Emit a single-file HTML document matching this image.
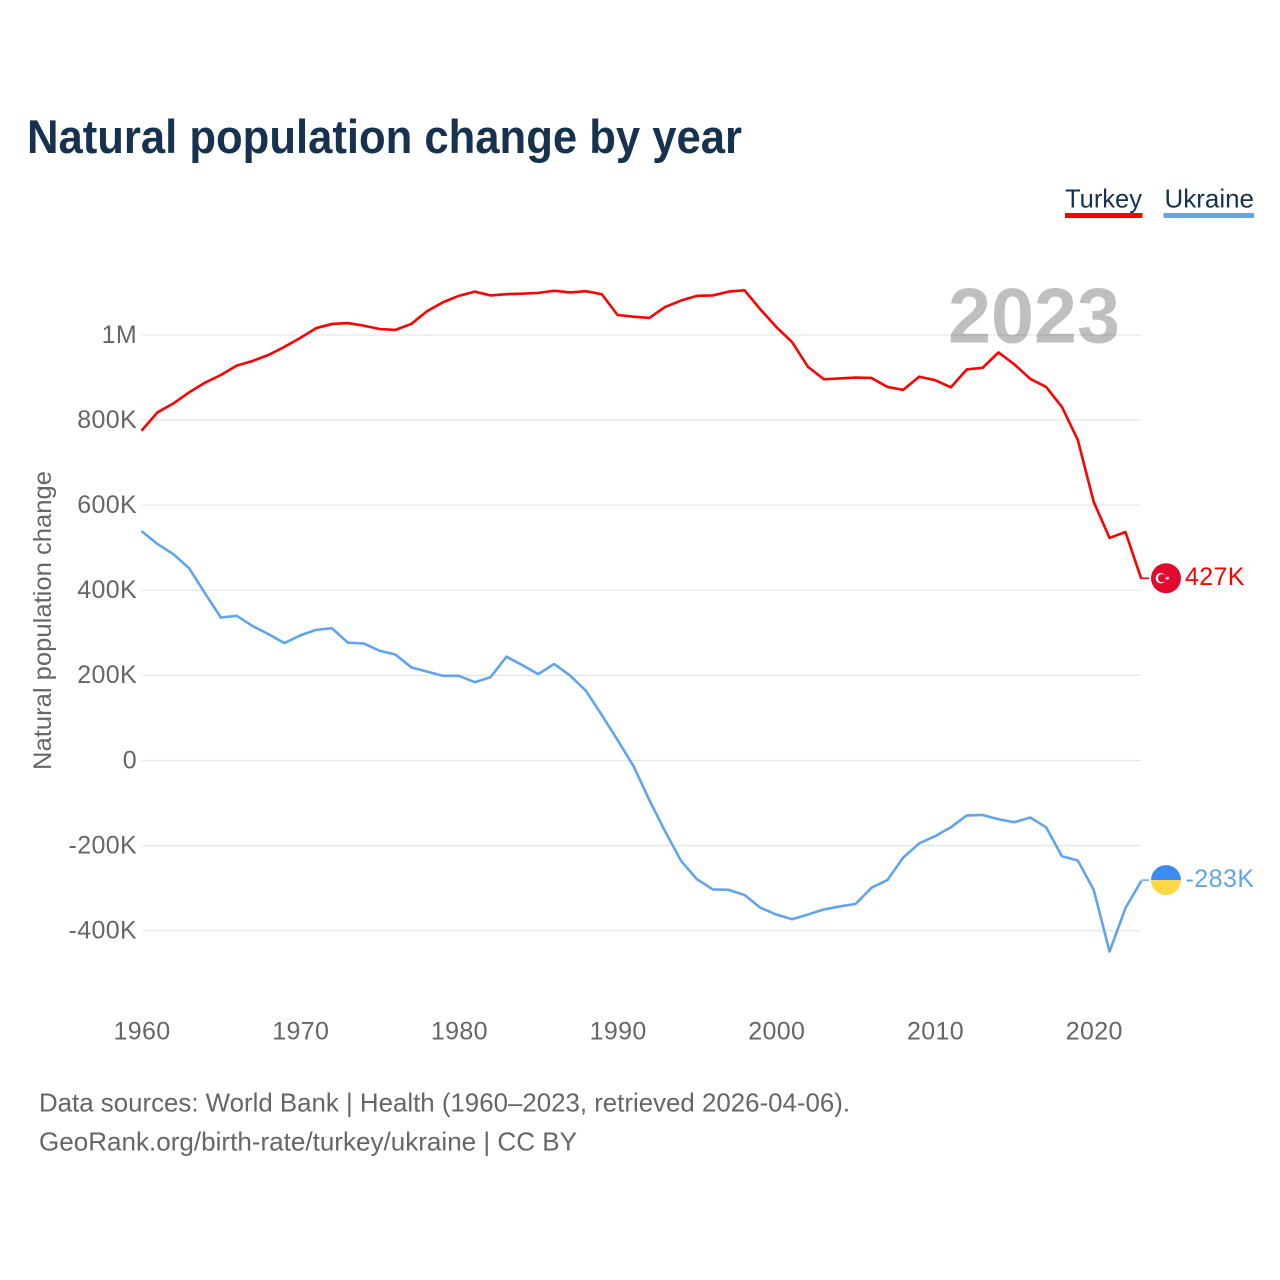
<!DOCTYPE html>
<html lang="en">
<head>
<meta charset="utf-8">
<title>Natural population change by year</title>
<style>
html,body{margin:0;padding:0;background:#fff;width:1280px;height:1280px;overflow:hidden}
svg{display:block;font-family:"Liberation Sans",sans-serif}
</style>
</head>
<body>
<svg id="chart" xmlns="http://www.w3.org/2000/svg" width="1280" height="1280" viewBox="0 0 1280 1280">
  <rect x="0" y="0" width="1280" height="1280" fill="#ffffff"/>
  <text x="27" y="153" font-size="47" font-weight="700" fill="#17324f" textLength="715" lengthAdjust="spacingAndGlyphs">Natural population change by year</text>

  <g>
    <text x="1065" y="207.5" font-size="26" fill="#17324f" textLength="77" lengthAdjust="spacingAndGlyphs">Turkey</text>
    <rect x="1065" y="213" width="77.5" height="5" fill="#ff0000"/>
  </g>
  <g>
    <text x="1164.5" y="207.5" font-size="26" fill="#17324f" textLength="89.5" lengthAdjust="spacingAndGlyphs">Ukraine</text>
    <rect x="1163.5" y="213" width="90.5" height="5" fill="#60a5ec"/>
  </g>

  <g id="grid"></g>
  <g id="yticks"></g>
  <g id="xticks"></g>

  <text x="948" y="342.5" font-size="78" font-weight="700" fill="#000000" fill-opacity="0.25" textLength="172" lengthAdjust="spacingAndGlyphs">2023</text>

  <text transform="translate(51 770) rotate(-90)" x="0" y="0" font-size="25" fill="#666666" textLength="299" lengthAdjust="spacingAndGlyphs">Natural population change</text>

  <g id="series"></g>
  <g id="ends"></g>

  <text x="39" y="1111.5" font-size="26" fill="#666666" textLength="811" lengthAdjust="spacingAndGlyphs">Data sources: World Bank | Health (1960–2023, retrieved 2026-04-06).</text>
  <text x="39" y="1150.5" font-size="26" fill="#666666" textLength="538" lengthAdjust="spacingAndGlyphs">GeoRank.org/birth-rate/turkey/ukraine | CC BY</text>
</svg>

<script>
const startYear = 1960;
const xTickYears = [1960, 1970, 1980, 1990, 2000, 2010, 2020];
const yTickValues = [1000, 800, 600, 400, 200, 0, -200, -400];
const yTickLabels = ["1M", "800K", "600K", "400K", "200K", "0", "-200K", "-400K"];
const turkeyValues = [775,818,839,865,888,906,928,939,953,972,993,1016,1026,1028,1022,1014,1012,1026,1056,1077,1092,1102,1093,1096,1097,1099,1104,1100,1103,1096,1047,1043,1040,1066,1081,1092,1093,1102,1105,1060,1019,983,925,896,898,900,899,878,871,902,894,877,919,923,959,931,897,878,831,753,608,523,537,427];
const ukraineValues = [539,509,485,452,393,336,340,316,297,276,294,307,311,277,275,258,249,219,209,199,199,184,196,244,224,203,227,200,164,107,48,-13,-93,-167,-236,-279,-303,-304,-316,-346,-362,-373,-362,-350,-343,-337,-299,-281,-228,-195,-178,-157,-129,-128,-138,-145,-134,-157,-225,-235,-304,-449,-347,-283];
const turkeyEndLabel = "427K";
const ukraineEndLabel = "-283K";

const NS = "http://www.w3.org/2000/svg";
const xScale = year => 141.5 + (year - 1960) * 15.87;
const yScale = value => 760.5 - value * 0.4255;

function make(tag, attrs, parent, text) {
  const el = document.createElementNS(NS, tag);
  for (const key in attrs) el.setAttribute(key, attrs[key]);
  if (text !== undefined) el.textContent = text;
  parent.appendChild(el);
  return el;
}

const grid = document.getElementById("grid");
const yticks = document.getElementById("yticks");
const xticks = document.getElementById("xticks");
const series = document.getElementById("series");
const ends = document.getElementById("ends");

yTickValues.forEach((value, i) => {
  const y = yScale(value);
  const line = make("line", {x1: 142, x2: 1141, y1: y, y2: y, stroke: "#e6e6e6", "stroke-width": 1.2}, grid);
  
  
  const label = make("text", {x: 137, y: y + 7.8, "text-anchor": "end", "font-size": 25, "letter-spacing": 0.35, fill: "#666666"}, yticks, yTickLabels[i]);
  
  
});

xTickYears.forEach(year => {
  const label = make("text", {x: xScale(year) + 0.5, y: 1039.5, "text-anchor": "middle", "font-size": 25, "letter-spacing": 0.35, fill: "#666666"}, xticks, String(year));
  
  
});

function pathFor(values) {
  return values.map((v, i) => (i ? "L" : "M") + xScale(startYear + i).toFixed(2) + " " + yScale(v).toFixed(2)).join(" ");
}

const turkeyLine = make("path", {d: pathFor(turkeyValues), fill: "none", stroke: "#ff0000", "stroke-width": 2.6, "stroke-linejoin": "round"}, series);



const ukraineLine = make("path", {d: pathFor(ukraineValues), fill: "none", stroke: "#60a5ec", "stroke-width": 2.6, "stroke-linejoin": "round"}, series);



const lastYear = startYear + turkeyValues.length - 1;
const endX = xScale(lastYear);
const flagX = 1166;
const turkeyY = yScale(turkeyValues[turkeyValues.length - 1]) - 0.6;
const ukraineY = yScale(ukraineValues[ukraineValues.length - 1]) - 0.8;

const turkeyLead = make("line", {x1: endX, x2: 1149, y1: turkeyY, y2: turkeyY, stroke: "#ff0000", "stroke-width": 1.5}, ends);



const turkeyFlag = make("g", {transform: "translate(" + flagX + " " + turkeyY + ")"}, ends);


make("circle", {r: 15, fill: "#e30a2f"}, turkeyFlag);
make("circle", {cx: -5.2, r: 5.2, fill: "#ffffff"}, turkeyFlag);
make("circle", {cx: -3.9, r: 4.1, fill: "#e30a2f"}, turkeyFlag);
make("polygon", {points: "-1.4,0 0.6,-0.6 0.6,-2.2 1.6,-0.8 3.6,-1.4 2.4,0 3.6,1.4 1.6,0.8 0.6,2.2 0.6,0.6", fill: "#ffffff"}, turkeyFlag);

const turkeyLabel = make("text", {x: 1185, y: turkeyY + 6.6, "font-size": 25, "letter-spacing": 0.35, fill: "#ff0000"}, ends, turkeyEndLabel);



const ukraineLead = make("line", {x1: endX, x2: 1149, y1: ukraineY, y2: ukraineY, stroke: "#60a5ec", "stroke-width": 1.5}, ends);



const ukraineFlag = make("g", {transform: "translate(" + flagX + " " + ukraineY + ")"}, ends);


make("path", {d: "M-15 0A15 15 0 0 1 15 0Z", fill: "#3a8cf3"}, ukraineFlag);
make("path", {d: "M-15 0A15 15 0 0 0 15 0Z", fill: "#ffd945"}, ukraineFlag);

const ukraineLabel = make("text", {x: 1185.5, y: ukraineY + 7, "font-size": 25, "letter-spacing": 0.45, fill: "#60a5ec"}, ends, ukraineEndLabel);


</script>
</body>
</html>
